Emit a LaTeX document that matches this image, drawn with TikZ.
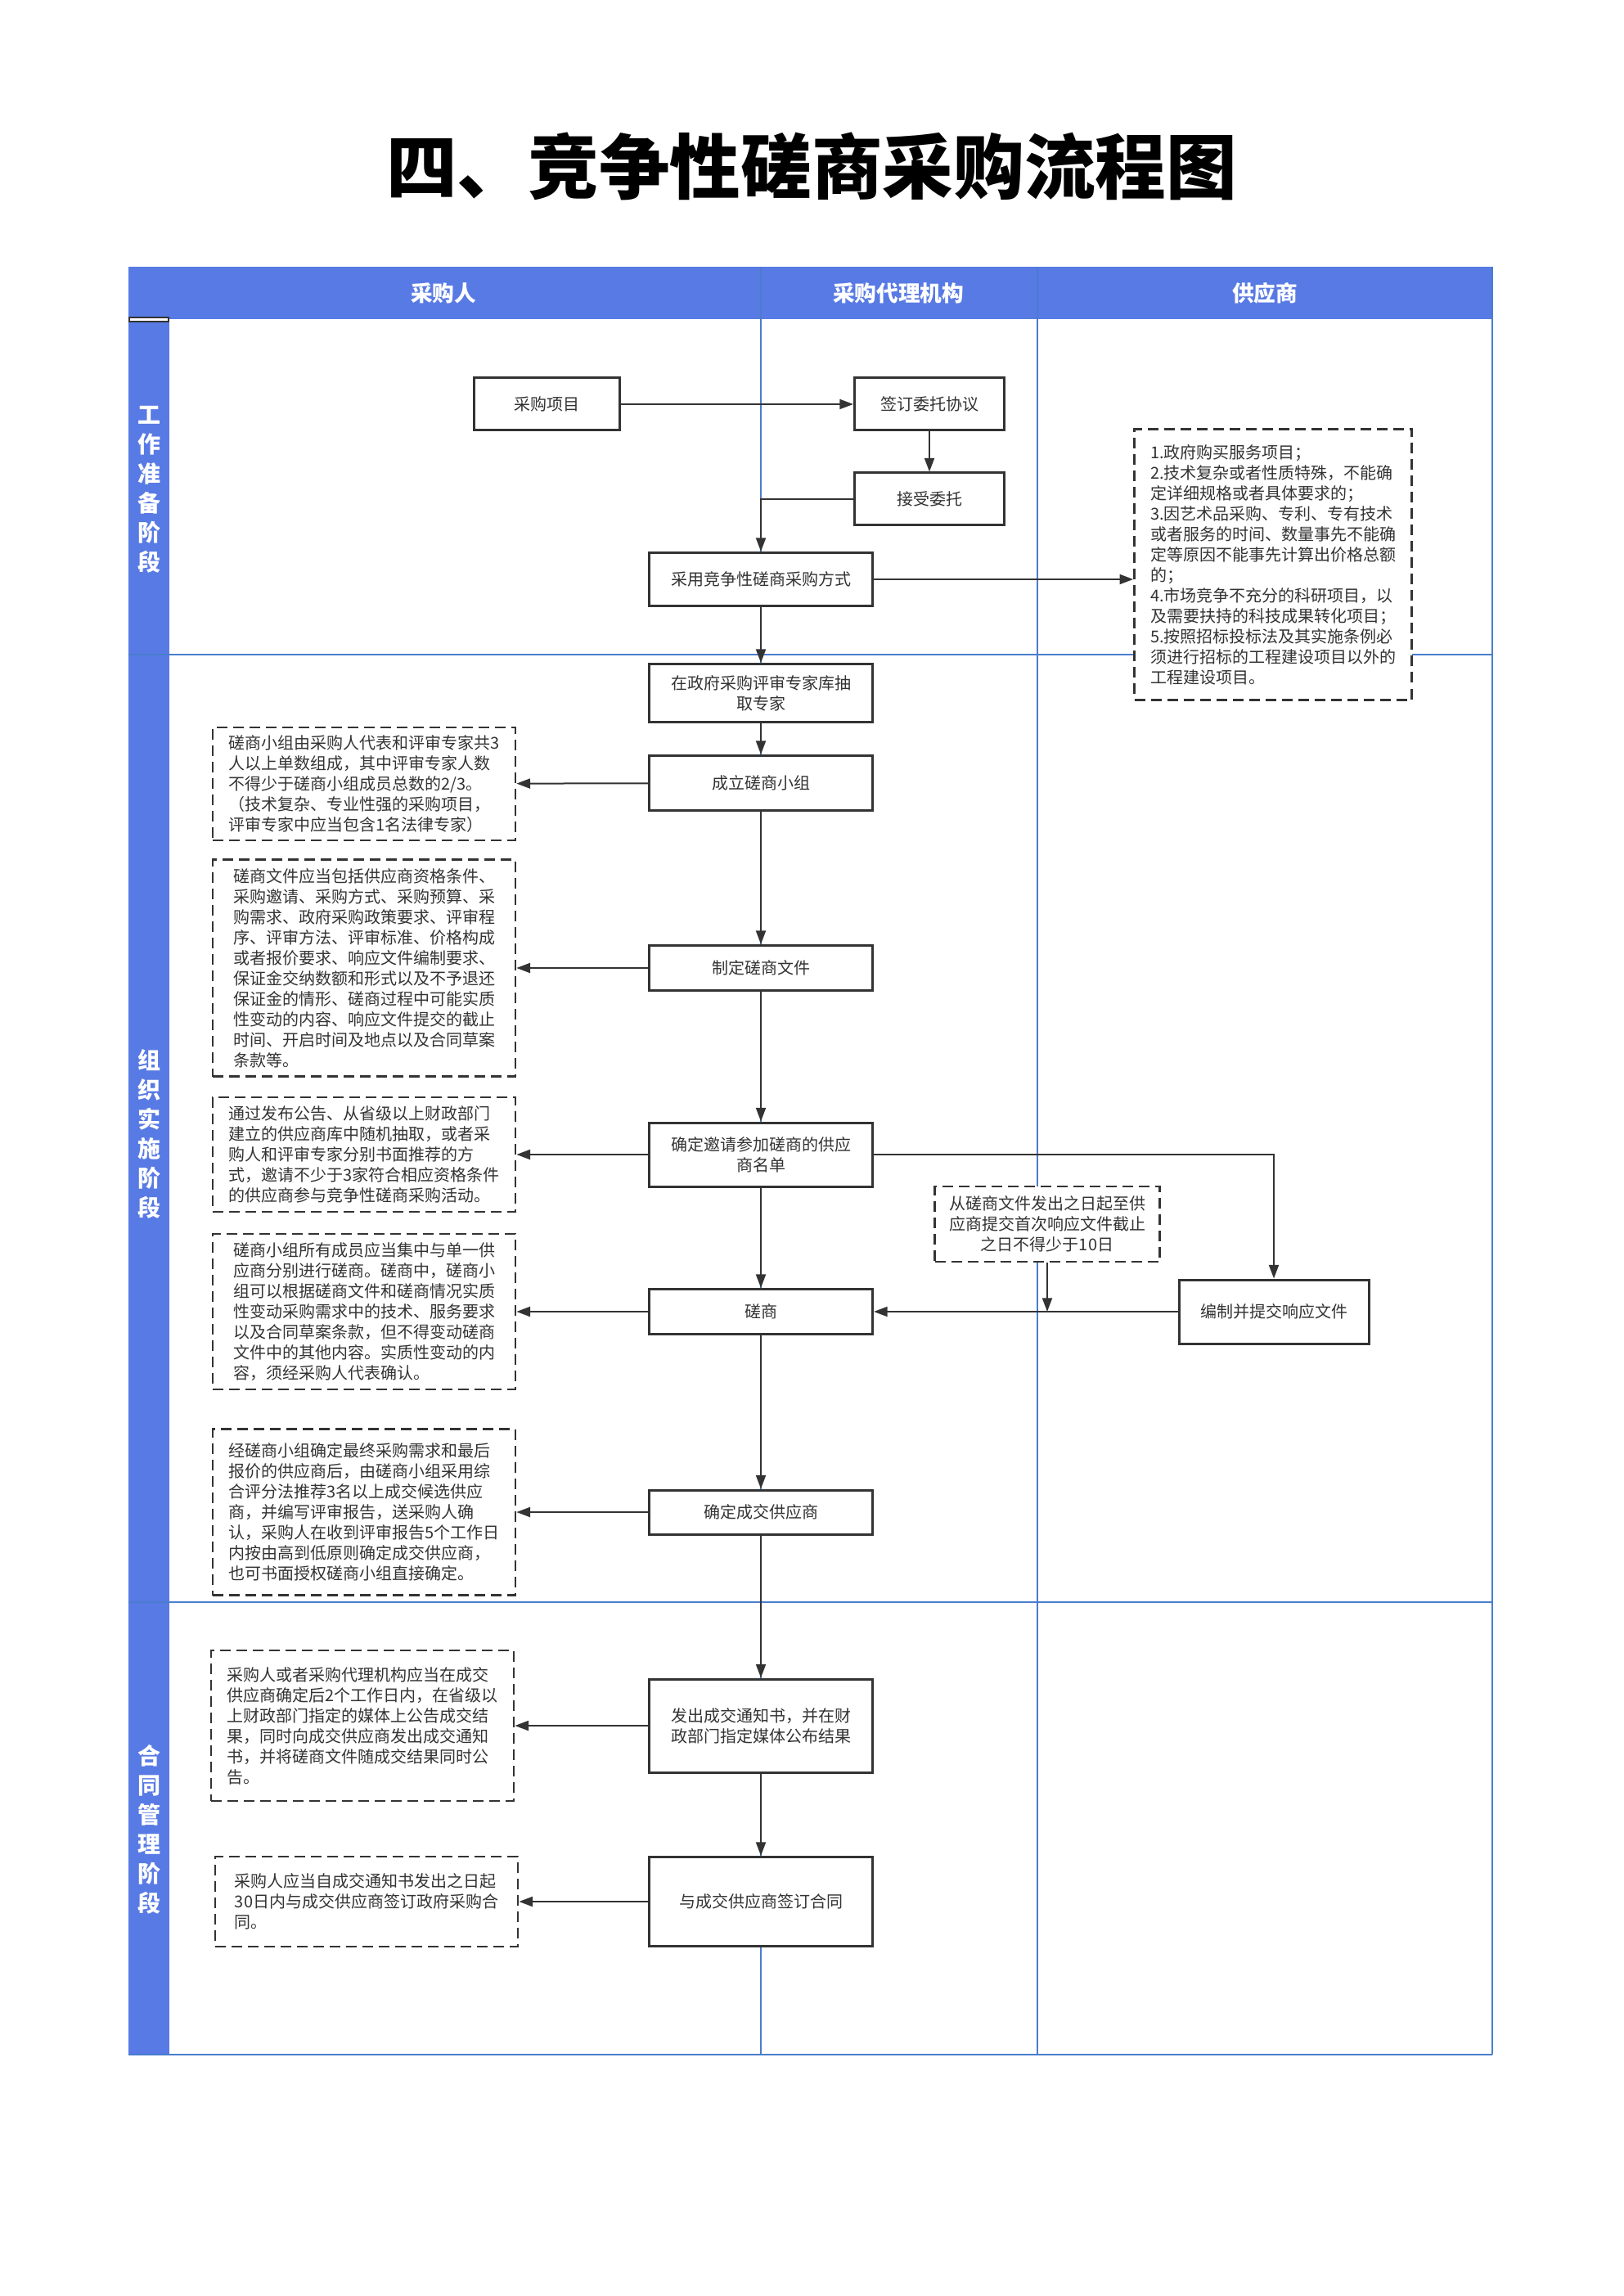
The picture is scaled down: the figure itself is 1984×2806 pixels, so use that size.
\documentclass[tikz,border=0pt]{standalone}
\usepackage{fontspec}
\setmainfont{Noto Sans CJK SC}
\usetikzlibrary{arrows.meta}
\definecolor{lanefill}{RGB}{88,122,228}
\definecolor{laneline}{RGB}{74,125,205}
\definecolor{linegray}{RGB}{51,51,51}
\begin{document}
\begin{tikzpicture}[x=0.3pt,y=-0.3pt,
  proc/.style={draw=linegray,line width=0.9pt,text=linegray,align=center,inner sep=1pt,
    font=\fontsize{6pt}{7.5pt}\selectfont},
  note/.style={draw=linegray,line width=0.8pt,dash pattern=on 3.9pt off 2.1pt,text=linegray,
    align=left,inner sep=1pt,font=\fontsize{6pt}{7.5pt}\selectfont},
  flow/.style={draw=linegray,line width=0.6pt,-{Triangle[length=5pt,width=3.6pt]}},
  lane/.style={draw=laneline,line width=0.5pt},
  head/.style={text=white,font=\fontsize{8pt}{9pt}\selectfont\bfseries},
  stage/.style={text=white,align=center,font=\fontsize{8.4pt}{10.8pt}\selectfont\bfseries}]
\useasboundingbox (0,0) rectangle (1984,2806);
\node (title) at (992,203) {\fontsize{26pt}{30pt}\selectfont\bfseries 四、竞争性磋商采购流程图};

\fill[lanefill] (157,326) rectangle (1824,390);
\fill[lanefill] (157,390) rectangle (207,2511);
\draw[fill=white,draw=black!80,line width=0.4pt] (158,388) rectangle (206,393);
\draw[lane] (930,326) -- (930,2511);
\draw[lane] (1268,326) -- (1268,2511);
\draw[lane] (1824,326) -- (1824,2511);
\draw[lane] (157,800) -- (1824,800);
\draw[lane] (157,1958) -- (1824,1958);
\draw[lane] (157,2511) -- (1824,2511);
\node[head] (buyer) at (542,358) {采购人};
\node[head] (agency) at (1098,358) {采购代理机构};
\node[head] (supplier) at (1546,358) {供应商};
\node[stage] (stage1) at (182,598) {工\\作\\准\\备\\阶\\段};
\node[stage] (stage2) at (182,1386) {组\\织\\实\\施\\阶\\段};
\node[stage] (stage3) at (182,2236) {合\\同\\管\\理\\阶\\段};

\node[proc,minimum width=53.4pt,minimum height=19.2pt,fill=white] (xiangmu) at (668,494) {采购项目};
\node[proc,minimum width=54.9pt,minimum height=19.2pt,fill=white] (xieyi) at (1136,494) {签订委托协议};
\node[proc,minimum width=54.9pt,minimum height=19.2pt,fill=white] (weituo) at (1136,610) {接受委托};
\node[proc,minimum width=81.9pt,minimum height=19.5pt,fill=white] (fangshi) at (930,708) {采用竞争性磋商采购方式};
\node[proc,minimum width=81.9pt,minimum height=21.3pt,fill=white] (zhuanjia) at (930,847) {在政府采购评审专家库抽\\取专家};
\node[proc,minimum width=81.9pt,minimum height=20.1pt,fill=white] (xiaozu) at (930,957) {成立磋商小组};
\node[proc,minimum width=81.9pt,minimum height=16.5pt,fill=white] (wenjian) at (930,1183) {制定磋商文件};
\node[proc,minimum width=81.9pt,minimum height=23.4pt,fill=white] (mingdan) at (930,1411) {确定邀请参加磋商的供应\\商名单};
\node[proc,minimum width=81.9pt,minimum height=16.5pt,fill=white] (cuoshang) at (930,1603) {磋商};
\node[proc,minimum width=69.6pt,minimum height=23.4pt,fill=white] (xiangying) at (1557,1603) {编制并提交响应文件};
\node[proc,minimum width=81.9pt,minimum height=16.2pt,fill=white] (chengjiao) at (930,1848) {确定成交供应商};
\node[proc,minimum width=81.9pt,minimum height=34.2pt,fill=white] (tongzhi) at (930,2109) {发出成交通知书，并在财\\政部门指定媒体公布结果};
\node[proc,minimum width=81.9pt,minimum height=32.7pt,fill=white] (hetong) at (930,2324) {与成交供应商签订合同};

\node[note,minimum width=101.7pt,minimum height=99.3pt,fill=white] (tiaojian) at (1556,690) {1.政府购买服务项目；\\2.技术复杂或者性质特殊，不能确\\定详细规格或者具体要求的；\\3.因艺术品采购、专利、专有技术\\或者服务的时间、数量事先不能确\\定等原因不能事先计算出价格总额\\的；\\4.市场竞争不充分的科研项目，以\\及需要扶持的科技成果转化项目；\\5.按照招标投标法及其实施条例必\\须进行招标的工程建设项目以外的\\工程建设项目。};
\node[note,minimum width=111pt,minimum height=41.4pt] (zucheng) at (445,958) {磋商小组由采购人代表和评审专家共3\\人以上单数组成，其中评审专家人数\\不得少于磋商小组成员总数的2/3。\\（技术复杂、专业性强的采购项目，\\评审专家中应当包含1名法律专家）};
\node[note,minimum width=111pt,minimum height=79.5pt] (neirong) at (445,1183) {磋商文件应当包括供应商资格条件、\\采购邀请、采购方式、采购预算、采\\购需求、政府采购政策要求、评审程\\序、评审方法、评审标准、价格构成\\或者报价要求、响应文件编制要求、\\保证金交纳数额和形式以及不予退还\\保证金的情形、磋商过程中可能实质\\性变动的内容、响应文件提交的截止\\时间、开启时间及地点以及合同草案\\条款等。};
\node[note,minimum width=111pt,minimum height=42pt] (yaoqing) at (445,1411) {通过发布公告、从省级以上财政部门\\建立的供应商库中随机抽取，或者采\\购人和评审专家分别书面推荐的方\\式，邀请不少于3家符合相应资格条件\\的供应商参与竞争性磋商采购活动。};
\node[note,minimum width=111pt,minimum height=57pt] (guize) at (445,1603) {磋商小组所有成员应当集中与单一供\\应商分别进行磋商。磋商中，磋商小\\组可以根据磋商文件和磋商情况实质\\性变动采购需求中的技术、服务要求\\以及合同草案条款，但不得变动磋商\\文件中的其他内容。实质性变动的内\\容，须经采购人代表确认。};
\node[note,minimum width=111pt,minimum height=60.9pt] (tuijian) at (445,1848) {经磋商小组确定最终采购需求和最后\\报价的供应商后，由磋商小组采用综\\合评分法推荐3名以上成交候选供应\\商，并编写评审报告，送采购人确\\认，采购人在收到评审报告5个工作日\\内按由高到低原则确定成交供应商，\\也可书面授权磋商小组直接确定。};
\node[note,minimum width=111pt,minimum height=55.2pt] (gonggao) at (443,2109) {采购人或者采购代理机构应当在成交\\供应商确定后2个工作日内，在省级以\\上财政部门指定的媒体上公告成交结\\果，同时向成交供应商发出成交通知\\书，并将磋商文件随成交结果同时公\\告。};
\node[note,minimum width=111pt,minimum height=33pt] (qianding) at (448,2324) {采购人应当自成交通知书发出之日起\\30日内与成交供应商签订政府采购合\\同。};
\node[note,minimum width=82.5pt,minimum height=27.6pt,align=center,fill=white] (qixian) at (1280,1496) {从磋商文件发出之日起至供\\应商提交首次响应文件截止\\之日不得少于10日};

\draw[flow] (xiangmu) -- (xieyi);
\draw[flow] (xieyi) -- (weituo);
\draw[flow] (weituo.west) -| (fangshi.north);
\draw[flow] (fangshi.east) -- (fangshi.east -| tiaojian.west);
\draw[flow] (fangshi) -- (zhuanjia);
\draw[flow] (zhuanjia) -- (xiaozu);
\draw[flow] (xiaozu) -- (zucheng);
\draw[flow] (xiaozu) -- (wenjian);
\draw[flow] (wenjian) -- (neirong);
\draw[flow] (wenjian) -- (mingdan);
\draw[flow] (mingdan) -- (yaoqing);
\draw[flow] (mingdan.east) -| (xiangying.north);
\draw[flow] (mingdan) -- (cuoshang);
\draw[flow] (xiangying) -- (cuoshang);
\draw[flow] (qixian.south) -- (qixian.south |- cuoshang.east);
\draw[flow] (cuoshang) -- (guize);
\draw[flow] (cuoshang) -- (chengjiao);
\draw[flow] (chengjiao) -- (tuijian);
\draw[flow] (chengjiao) -- (tongzhi);
\draw[flow] (tongzhi) -- (gonggao);
\draw[flow] (tongzhi) -- (hetong);
\draw[flow] (hetong) -- (qianding);
\end{tikzpicture}
\end{document}
